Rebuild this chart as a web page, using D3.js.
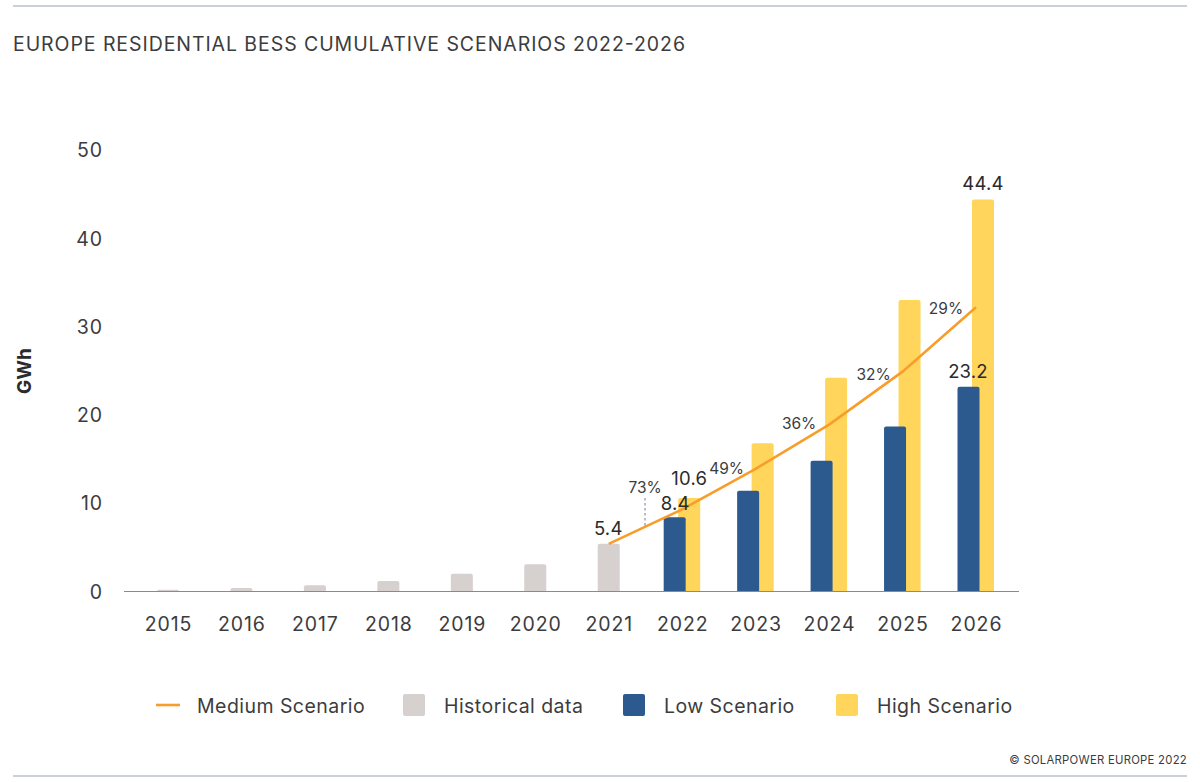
<!DOCTYPE html>
<html>
<head>
<meta charset="utf-8">
<script src="https://d3js.org/d3.v7.min.js"></script>
<style>
  html, body { margin: 0; background: #fff; }
  text { font-family: Inter, "Noto Sans", sans-serif; fill: #3c3c3e; }
  .tick-label { font-size: 19.5px; letter-spacing: 0.9px; }
  .value { font-size: 18.5px; letter-spacing: 0.2px; fill: #2b2b2d; }
  .pct { font-size: 15.5px; }
  .legend-label { font-size: 19.5px; letter-spacing: 0.45px; }
</style>
</head>
<body>
<div id="chart"></div>
<script>
var years = ["2015","2016","2017","2018","2019","2020","2021","2022","2023","2024","2025","2026"];
var histYears = ["2015","2016","2017","2018","2019","2020","2021"];
var histValues = [0.2, 0.4, 0.7, 1.2, 2.0, 3.1, 5.4];
var scenarioYears = ["2022","2023","2024","2025","2026"];
var lowValues = [8.4, 11.4, 14.8, 18.7, 23.2];
var highValues = [10.6, 16.8, 24.2, 33.0, 44.4];
var mediumYears = ["2021","2022","2023","2024","2025","2026"];
var mediumValues = [5.4, 9.3, 13.9, 18.9, 24.9, 32.2];
var growthLabels = ["73%","49%","36%","32%","29%"];
var yTicks = [0, 10, 20, 30, 40, 50];

var colors = {hist: "#d6d0cf", low: "#2c5a8f", high: "#ffd55c", medium: "#f99d2a", rule: "#98a1b5", axis: "#7f8aa3"};

var width = 1200, height = 782;

var svg = d3.select("#chart").append("svg")
    .attr("width", width)
    .attr("height", height)
    .style("display", "block");

var x = d3.scalePoint().domain(years).range([168, 976]);
var y = d3.scaleLinear().domain([0, 50]).range([591.5, 150]);

// top and bottom page rules
svg.selectAll(".rule").data([6, 776]).enter().append("line")
    .attr("x1", 13).attr("x2", 1187)
    .attr("y1", function(d) { return d; }).attr("y2", function(d) { return d; })
    .attr("stroke", colors.rule).attr("stroke-width", 1.2);

svg.append("text")
    .attr("x", 13).attr("y", 51)
    .attr("textLength", 672)
    .style("font-size", "19.5px")
    .text("EUROPE RESIDENTIAL BESS CUMULATIVE SCENARIOS 2022-2026");

svg.append("text")
    .attr("x", 1187).attr("y", 764)
    .attr("text-anchor", "end")
    .style("font-size", "11.3px")
    .style("letter-spacing", "0.27px")
    .text("© SOLARPOWER EUROPE 2022");

// axes, the lines come from the scales but the ticks are hidden
var yAxis = d3.axisLeft(y).tickValues(yTicks).tickSize(0).tickPadding(0);
var yG = svg.append("g").attr("transform", "translate(103,0.5)").call(yAxis);
yG.select(".domain").remove();
yG.selectAll("text").attr("class", "tick-label").attr("dy", "0.32em");
yG.attr("font-family", null).attr("font-size", null);

var xAxis = d3.axisBottom(x).tickSize(0).tickPadding(0);
var xG = svg.append("g").attr("transform", "translate(0,617)").call(xAxis);
xG.select(".domain").remove();
xG.selectAll("text").attr("class", "tick-label").attr("dy", "0.71em");
xG.attr("font-family", null).attr("font-size", null);

svg.append("text")
    .attr("transform", "translate(31,371) rotate(-90)")
    .attr("text-anchor", "middle")
    .style("font-size", "19px")
    .style("font-weight", 700)
    .style("fill", "#2b2b2d")
    .text("GWh");

// bars
function drawBars(cls, keys, values, color, dx, w) {
    svg.selectAll("." + cls).data(values).enter().append("path")
        .attr("class", cls)
        .attr("fill", color)
        .attr("d", function(d, i) {
            var left = x(keys[i]) + dx, top = y(d), h = y(0) - top, r = Math.min(2, h);
            return "M" + left + "," + y(0) + "V" + (top + r)
                + "Q" + left + "," + top + " " + (left + r) + "," + top
                + "H" + (left + w - r)
                + "Q" + (left + w) + "," + top + " " + (left + w) + "," + (top + r)
                + "V" + y(0) + "Z";
        });
}
drawBars("hist", histYears, histValues, colors.hist, -11, 22);
drawBars("high", scenarioYears, highValues, colors.high, -4, 22);
drawBars("low", scenarioYears, lowValues, colors.low, -18.5, 22);

svg.append("line")
    .attr("x1", 124).attr("x2", 1019)
    .attr("y1", y(0)).attr("y2", y(0))
    .attr("stroke", colors.axis).attr("stroke-width", 1.2);

// medium scenario line
var line = d3.line()
    .x(function(d, i) { return x(mediumYears[i]); })
    .y(function(d) { return y(d); });

svg.append("path")
    .datum(mediumValues)
    .attr("fill", "none")
    .attr("stroke", colors.medium)
    .attr("stroke-width", 2.6)
    .attr("d", line);

// dashed leader under the 73% label
svg.append("line")
    .attr("x1", 645).attr("x2", 645).attr("y1", 498).attr("y2", 527)
    .attr("stroke", "#6f7a93").attr("stroke-width", 1).attr("stroke-dasharray", "2.5,2.5");

// value labels, nudged off their bars
function valueLabel(year, v, dx, dy) {
    svg.append("text")
        .attr("class", "value")
        .attr("text-anchor", "middle")
        .attr("x", x(year) + dx)
        .attr("y", y(v) + dy)
        .text(v.toFixed(1));
}
valueLabel("2021", histValues[6], -0.5, -8.5);
valueLabel("2022", lowValues[0], -7, -7.5);
valueLabel("2022", highValues[0], 7, -13);
valueLabel("2026", lowValues[4], -8, -8.5);
valueLabel("2026", highValues[4], 7, -9);

// growth labels sit left of each line point
var growthDx = [-37, -29, -30, -29, -30];
var growthDy = [-16, 5, 4, 8, 7];
svg.selectAll(".pct").data(growthLabels).enter().append("text")
    .attr("class", "pct")
    .attr("text-anchor", "middle")
    .attr("x", function(d, i) { return x(mediumYears[i + 1]) + growthDx[i]; })
    .attr("y", function(d, i) { return y(mediumValues[i + 1]) + growthDy[i]; })
    .text(function(d) { return d; });

// legend
var legendNames = ["Medium Scenario", "Historical data", "Low Scenario", "High Scenario"];
var legendColors = [colors.medium, colors.hist, colors.low, colors.high];
var legendX = [156, 403, 623, 836];
var legendTextX = [197, 444, 664, 877];

legendNames.forEach(function(name, i) {
    if (i === 0) {
        svg.append("line")
            .attr("x1", legendX[i]).attr("x2", legendX[i] + 24)
            .attr("y1", 705).attr("y2", 705)
            .attr("stroke", legendColors[i]).attr("stroke-width", 2.6);
    } else {
        svg.append("rect")
            .attr("x", legendX[i]).attr("y", 694)
            .attr("width", 22).attr("height", 22).attr("rx", 2)
            .attr("fill", legendColors[i]);
    }
    svg.append("text")
        .attr("class", "legend-label")
        .attr("x", legendTextX[i]).attr("y", 713)
        .text(name);
});
</script>
</body>
</html>
